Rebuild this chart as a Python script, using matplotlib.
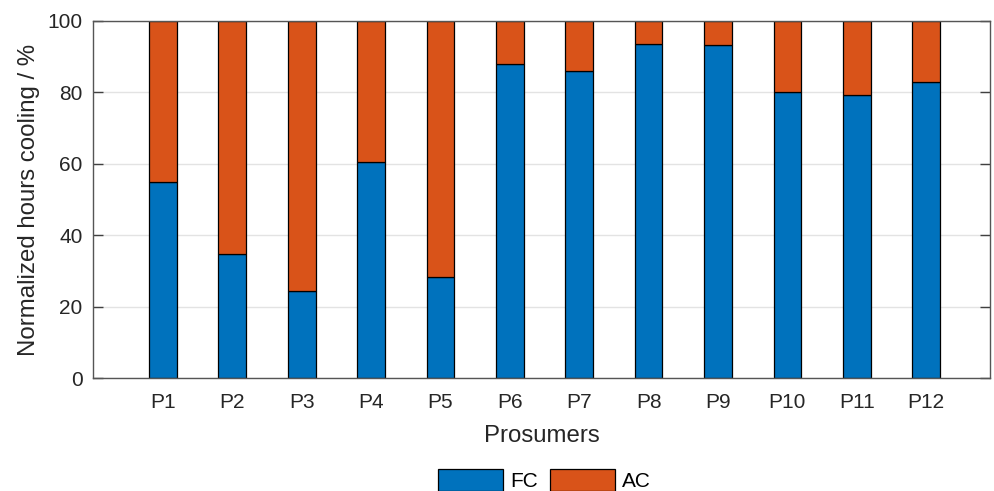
import matplotlib.pyplot as plt
import numpy as np

# data
prosumers = ['P1', 'P2', 'P3', 'P4', 'P5', 'P6', 'P7', 'P8', 'P9', 'P10', 'P11', 'P12']
fc = [55.0, 34.8, 24.4, 60.5, 28.2, 87.9, 86.0, 93.5, 93.4, 80.0, 79.2, 82.8]
ac = [100 - v for v in fc]

plt.rcParams['font.family'] = ['Liberation Sans', 'DejaVu Sans']

fig = plt.figure(figsize=(9.95, 4.91), dpi=100)
ax = fig.add_axes([93.5 / 995, 1 - 378 / 491, (990 - 93.5) / 995, (378 - 21) / 491])

x = np.arange(1, len(prosumers) + 1)
ax.bar(x, fc, width=0.4, color='#0072BD', edgecolor='black', linewidth=0.9, label='FC', zorder=3)
ax.bar(x, ac, width=0.4, bottom=fc, color='#D95319', edgecolor='black', linewidth=0.9, label='AC', zorder=3)

ax.set_xlim(0, 12.92)
ax.set_ylim(0, 100)
ax.set_xticks(x)
ax.set_xticklabels(prosumers)
ax.set_yticks(np.arange(0, 101, 20))
ax.grid(axis='y', color='#e3e3e3', linewidth=1, zorder=0)
ax.set_axisbelow(True)

ax.tick_params(axis='both', direction='in', length=7, width=1, color='#404040',
               labelsize=15, labelcolor='#262626', top=True, right=True)
ax.tick_params(axis='y', pad=8)
ax.tick_params(axis='x', pad=10.5)
for s in ax.spines.values():
    s.set_color('#555555')
    s.set_linewidth(1)
    s.set_zorder(4)

ax.set_xlabel('Prosumers', fontsize=17.3, color='#262626', labelpad=10)
ax.set_ylabel('Normalized hours cooling / %', fontsize=17.3, color='#262626', labelpad=5)

ax.legend(loc='center', bbox_to_anchor=(544.5 / 995, 1 - 480 / 491), bbox_transform=fig.transFigure,
          ncol=2, frameon=False, fontsize=15, handlelength=3.1, handleheight=1.2,
          handletextpad=0.35, columnspacing=0.6, borderpad=0)

fig.savefig('out.png', dpi=100)
